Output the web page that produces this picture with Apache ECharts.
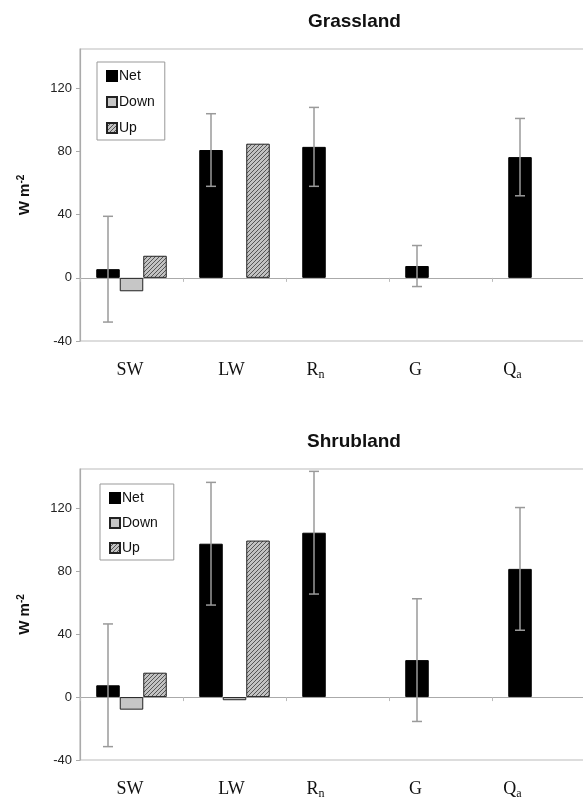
<!DOCTYPE html>
<html>
<head>
<meta charset="utf-8">
<script src="https://cdn.jsdelivr.net/npm/echarts@6/dist/echarts.min.js"></script>
<style>
html, body { margin: 0; padding: 0; background: #fff; }
#chart { width: 583px; height: 798px; }
</style>
</head>
<body>
<div id="chart"></div>
<script>
// data (W m-2)
const categories = ['SW', 'LW', 'Rn', 'G', 'Qa'];
const yTicks = [-40, 0, 40, 80, 120];
const seriesNames = ['Net', 'Down', 'Up'];

const grassNet = [5.5, 81, 83, 7.5, 76.5];
const grassDown = [-8.5, null, null, null, null];
const grassUp = [14, 85, null, null, null];
const grassErr = [33.5, 23, 25, 13, 24.5];

const shrubNet = [7.5, 97.5, 104.5, 23.5, 81.5];
const shrubDown = [-8, -2, null, null, null];
const shrubUp = [15.5, 99.5, null, null, null];
const shrubErr = [39, 39, 39, 39, 39];

const BAR_W = 23.5;
const SANS = 'Liberation Sans, Arial, sans-serif';
const SERIF = 'Liberation Serif, Times New Roman, serif';
// the x labels in the original sit a bit left of the category centres
const labelShift = [-1.5, -3, -22, -25, -31];

const chart = echarts.init(document.getElementById('chart'));

function hatch() {
    const c = document.createElement('canvas');
    c.width = 4; c.height = 4;
    const g = c.getContext('2d');
    g.fillStyle = '#c2c2c2';
    g.fillRect(0, 0, 4, 4);
    g.strokeStyle = '#555';
    g.lineWidth = 1;
    g.beginPath();
    g.moveTo(0, 4); g.lineTo(4, 0);
    g.moveTo(-1, 1); g.lineTo(1, -1);
    g.moveTo(3, 5); g.lineTo(5, 3);
    g.stroke();
    return c;
}
const hatchFill = { image: hatch(), repeat: 'repeat' };

// x label rich styles (subscripts for R_n and Q_a)
const rich = {};
categories.forEach((c, i) => {
    const pad = -2 * labelShift[i];
    rich['m' + i] = { fontFamily: SERIF, fontSize: 18, lineHeight: 22, color: '#111', padding: [0, pad, 0, 0] };
    rich['s' + i] = { fontFamily: SERIF, fontSize: 12, lineHeight: 12, color: '#111', verticalAlign: 'bottom', padding: [10, pad, 0, 0] };
});
rich.m = { fontFamily: SERIF, fontSize: 18, lineHeight: 22, color: '#111' };

const xLabel = (value, idx) => {
    const m = value.match(/^([A-Z]+)([a-z]?)$/);
    if (m[2]) return '{m|' + m[1] + '}{s' + idx + '|' + m[2] + '}';
    return '{m' + idx + '|' + m[1] + '}';
};

// plot area runs past the right edge of the picture, as in the original
const grids = [
    { left: 80, width: 515, top: 49, height: 292 },
    { left: 80, width: 515, top: 469, height: 291 }
];

const xAxes = [];
const yAxes = [];
grids.forEach((g, i) => {
    xAxes.push({
        type: 'category', gridIndex: i, data: categories,
        axisLine: { onZero: true, lineStyle: { color: '#aaa', width: 1.2 } },
        axisTick: { show: true, length: 4, lineStyle: { color: '#bbb' } },
        axisLabel: { show: false }
    });
    xAxes.push({
        type: 'category', gridIndex: i, data: categories, position: 'bottom',
        axisLine: { show: false, onZero: false },
        axisTick: { show: false },
        axisLabel: { margin: 18, formatter: xLabel, rich: rich }
    });
    yAxes.push({
        type: 'value', gridIndex: i, min: -40, max: 145, interval: 40,
        splitLine: { show: false },
        axisLine: { show: true, lineStyle: { color: '#aaa', width: 1.2 } },
        axisTick: { show: true, length: 4, customValues: yTicks, lineStyle: { color: '#aaa' } },
        axisLabel: { customValues: yTicks, fontFamily: SANS, fontSize: 13, color: '#222', margin: 8 },
        name: '{a|W m}{b|-2}', nameLocation: 'middle', nameGap: 46, nameRotate: 90,
        nameTextStyle: {
            rich: {
                a: { fontFamily: SANS, fontSize: 15, fontWeight: 'bold', color: '#111', lineHeight: 18 },
                b: { fontFamily: SANS, fontSize: 10, fontWeight: 'bold', color: '#111', lineHeight: 10, verticalAlign: 'top', padding: [0, 0, 8, 0] }
            }
        }
    });
});

function barSeries(i, net, down, up) {
    const common = { type: 'bar', xAxisIndex: 2 * i, yAxisIndex: i, barWidth: BAR_W, barGap: '0%' };
    return [
        Object.assign({ name: 'Net', data: net, itemStyle: { color: '#000', borderColor: '#000', borderWidth: 1 } }, common),
        Object.assign({ name: 'Down', data: down, itemStyle: { color: '#c6c6c6', borderColor: '#222', borderWidth: 1 } }, common),
        Object.assign({ name: 'Up', data: up, itemStyle: { color: hatchFill, borderColor: '#222', borderWidth: 1 } }, common)
    ];
}

function errSeries(i, net, err) {
    return {
        type: 'custom', xAxisIndex: 2 * i, yAxisIndex: i, z: 10,
        encode: { x: 0, y: [1, 2] },
        data: net.map((v, k) => [k, v - err[k], v + err[k]]),
        renderItem: (params, api) => {
            const k = api.value(0);
            const lo = api.coord([k, api.value(1)]);
            const hi = api.coord([k, api.value(2)]);
            const x = lo[0] - BAR_W; // Net is the left bar of each group
            const cap = 5;
            const style = { stroke: '#9a9a9a', lineWidth: 1.5 };
            return {
                type: 'group',
                children: [
                    { type: 'line', shape: { x1: x, y1: lo[1], x2: x, y2: hi[1] }, style: style },
                    { type: 'line', shape: { x1: x - cap, y1: hi[1], x2: x + cap, y2: hi[1] }, style: style },
                    { type: 'line', shape: { x1: x - cap, y1: lo[1], x2: x + cap, y2: lo[1] }, style: style }
                ]
            };
        }
    };
}

const legendBase = {
    data: seriesNames, orient: 'vertical', icon: 'rect',
    itemWidth: 10, itemHeight: 10, selectedMode: false,
    textStyle: { fontFamily: SANS, fontSize: 14, lineHeight: 16, color: '#111', padding: [0, 0, 0, -3] },
    borderColor: '#999', borderWidth: 1
};

const titleStyle = { fontFamily: SANS, fontSize: 19, fontWeight: 'bold', color: '#111' };

chart.setOption({
    animation: false,
    backgroundColor: '#fff',
    title: [
        { text: 'Grassland', left: 308, top: 12, padding: 0, textStyle: titleStyle },
        { text: 'Shrubland', left: 307, top: 432, padding: 0, textStyle: titleStyle }
    ],
    legend: [
        Object.assign({ left: 97, top: 62, itemGap: 10, padding: [6, 10, 4, 9] }, legendBase),
        Object.assign({ left: 100, top: 484, itemGap: 9, padding: [6, 16, 4, 9] }, legendBase)
    ],
    grid: grids.map(g => Object.assign({ show: true, borderColor: '#bbb', borderWidth: 1.2, outerBoundsMode: 'none' }, g)),
    xAxis: xAxes,
    yAxis: yAxes,
    series: [
        ...barSeries(0, grassNet, grassDown, grassUp),
        errSeries(0, grassNet, grassErr),
        ...barSeries(1, shrubNet, shrubDown, shrubUp),
        errSeries(1, shrubNet, shrubErr)
    ]
});
</script>
</body>
</html>
